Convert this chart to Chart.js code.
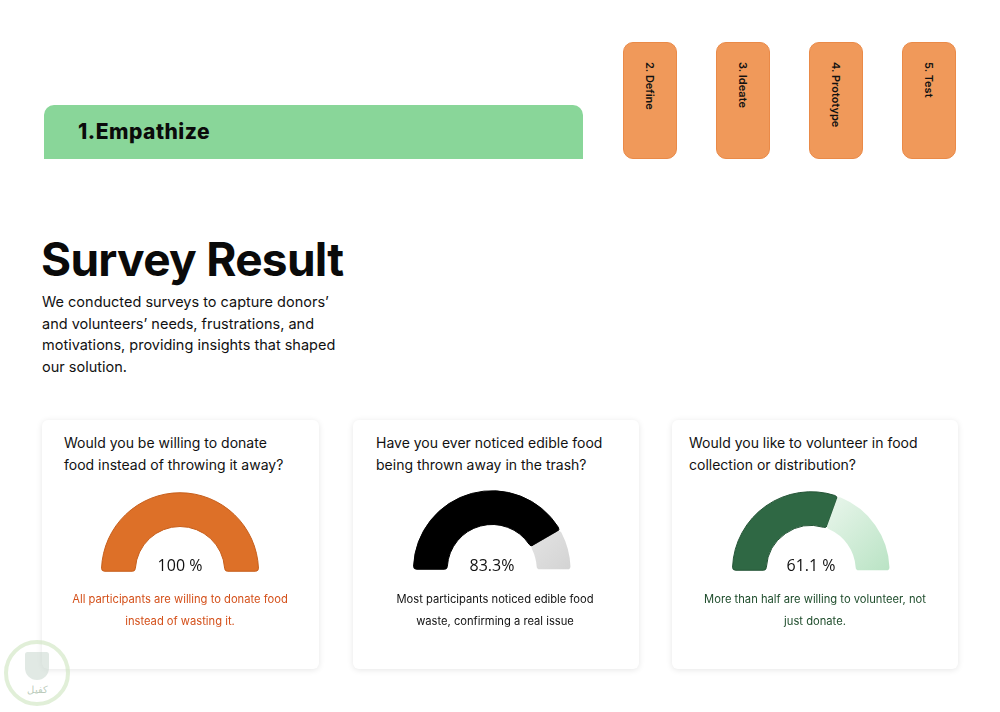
<!DOCTYPE html>
<html>
<head>
<meta charset="utf-8">
<script src="https://cdn.jsdelivr.net/npm/chart.js@4.4.1/dist/chart.umd.min.js"></script>
<style>
  html, body { margin: 0; padding: 0; background: #fff; }
  body { width: 1000px; height: 712px; position: relative; overflow: hidden; font-family: Inter, "Noto Sans", sans-serif; }
  .abs { position: absolute; }
  .stage-main {
    left: 44px; top: 105px; width: 539px; height: 54px;
    background: #89d699; border-radius: 10px 10px 0 0;
  }
  .stage-main span {
    position: absolute; left: 34px; top: 14px;
    font: 800 21px Inter, sans-serif; color: #0b0b0b; letter-spacing: 0.5px;
  }
  .stage {
    top: 42px; width: 52px; height: 115px;
    background: #f0995a; border: 1px solid #ea8a48; border-radius: 10px;
  }
  .stage span {
    position: absolute; top: 19px; left: 50%; transform: translateX(-50%);
    writing-mode: vertical-rl; font: 600 11px Inter, sans-serif; color: #111;
  }
  h1 {
    position: absolute; left: 41px; top: 231px; margin: 0;
    font: 700 46px Inter, sans-serif; letter-spacing: -0.7px; color: #0a0a0a;
  }
  .intro {
    left: 42px; top: 291px; width: 310px;
    font: 400 14.5px Inter, sans-serif; line-height: 21.5px; color: #111;
  }
  .card {
    top: 420px; height: 249px; background: #fff; border-radius: 6px;
    box-shadow: 0 1px 6px rgba(0,0,0,0.10);
  }
  .q { font: 400 14px Inter, sans-serif; line-height: 22px; color: #111; }
  .gauge { width: 158px; height: 80px; }
  .pct { width: 100px; text-align: center; font: 400 16px "Open Sans", sans-serif; color: #111; }
  .cap { width: 260px; text-align: center; font: 400 11.2px Inter, sans-serif; line-height: 22px; }
  .mark {
    left: 4px; top: 640px; width: 66px; height: 66px; border-radius: 50%;
    border: 4px solid rgba(205, 228, 190, 0.6); box-sizing: border-box;
    color: rgba(170, 190, 170, 0.8); font: 400 10px "Noto Sans", sans-serif; text-align: center;
  }
  .mark i {
    position: absolute; left: 17px; top: 8px; width: 24px; height: 28px;
    background: rgba(200, 215, 205, 0.55); border-radius: 3px 3px 14px 14px;
  }
  .mark span { position: absolute; left: 0; right: 0; top: 38px; }
</style>
</head>
<body>

<div class="abs stage-main"><span id="stage0"></span></div>
<div id="stages"></div>

<h1>Survey Result</h1>
<div class="abs intro">We conducted surveys to capture donors’<br>and volunteers’ needs, frustrations, and<br>motivations, providing insights that shaped<br>our solution.</div>

<div id="cards"></div>

<div class="abs mark"><i></i><span>كفيل</span></div>

<script>
// design-thinking steps
const stageLabels = ["1.Empathize", "2. Define", "3. Ideate", "4. Prototype", "5. Test"];

// survey questions / answers
const questions = [
  "Would you be willing to donate<br>food instead of throwing it away?",
  "Have you ever noticed edible food<br>being thrown away in the trash?",
  "Would you like to volunteer in food<br>collection or distribution?"
];
const yesShare = [100, 83.3, 61.1];
const pctLabels = ["100 %", "83.3%", "61.1 %"];
const captions = [
  "All participants are willing to donate food<br>instead of wasting it.",
  "Most participants noticed edible food<br>waste, confirming a real issue",
  "More than half are willing to volunteer, not<br>just donate."
];

// colours per card
const mainColors = ["#dd7028", "#000000", "#2f6844"];
const edgeColors = ["#c65e1b", "#000000", "#245436"];
const restFrom = ["#ffffff", "#f4f4f4", "#f1f9f2"];
const restTo = ["#ffffff", "#d3d3d3", "#b9e3c4"];
const capColors = ["#d4501a", "#111111", "#1f4d2c"];

// layout
const cardLeft = [42, 353, 672];
const cardWidth = [277, 286, 286];
const qLeft = [64, 376, 689];
const gaugeCx = [180, 492, 811];
const gaugeBottom = [571, 569, 570];
const capCx = [180, 495, 815];

document.getElementById("stage0").textContent = stageLabels[0];
const stageX = [623, 716, 809, 902];
const stagesEl = document.getElementById("stages");
stageX.forEach((x, i) => {
  const d = document.createElement("div");
  d.className = "abs stage";
  d.style.left = x + "px";
  d.innerHTML = "<span>" + stageLabels[i + 1] + "</span>";
  stagesEl.appendChild(d);
});

const cardsEl = document.getElementById("cards");
questions.forEach((q, i) => {
  const card = document.createElement("div");
  card.className = "abs card";
  card.style.left = cardLeft[i] + "px";
  card.style.width = cardWidth[i] + "px";
  cardsEl.appendChild(card);

  const qe = document.createElement("div");
  qe.className = "abs q";
  qe.style.left = qLeft[i] + "px";
  qe.style.top = "432px";
  qe.innerHTML = q;
  cardsEl.appendChild(qe);

  const g = document.createElement("div");
  g.className = "abs gauge";
  g.style.left = (gaugeCx[i] - 79) + "px";
  g.style.top = (gaugeBottom[i] - 79) + "px";
  const cv = document.createElement("canvas");
  g.appendChild(cv);
  cardsEl.appendChild(g);

  const p = document.createElement("div");
  p.className = "abs pct";
  p.style.left = (gaugeCx[i] - 50) + "px";
  p.style.top = "554px";
  p.textContent = pctLabels[i];
  cardsEl.appendChild(p);

  const c = document.createElement("div");
  c.className = "abs cap";
  c.style.left = (capCx[i] - 130) + "px";
  c.style.top = "588px";
  c.style.color = capColors[i];
  c.innerHTML = captions[i];
  cardsEl.appendChild(c);

  new Chart(cv.getContext("2d"), {
    type: "doughnut",
    data: {
      labels: ["Yes", "No"],
      datasets: [{
        data: [yesShare[i], +(100 - yesShare[i]).toFixed(1)],
        backgroundColor: (ctx) => {
          if (ctx.dataIndex === 0) return mainColors[i];
          const area = ctx.chart.chartArea;
          if (!area) return restTo[i];
          const grad = ctx.chart.ctx.createLinearGradient(area.left + area.width * 0.5, area.top, area.right, area.bottom);
          grad.addColorStop(0, restFrom[i]);
          grad.addColorStop(1, restTo[i]);
          return grad;
        },
        borderColor: (ctx) => ctx.dataIndex === 0 ? edgeColors[i] : "rgba(0,0,0,0)",
        borderWidth: 1,
        borderRadius: 3
      }]
    },
    options: {
      responsive: true,
      maintainAspectRatio: false,
      animation: false,
      rotation: -90,
      circumference: 180,
      cutout: "57%",
      layout: { padding: 0 },
      plugins: {
        legend: { display: false },
        tooltip: { enabled: false }
      }
    }
  });
});
</script>
</body>
</html>
